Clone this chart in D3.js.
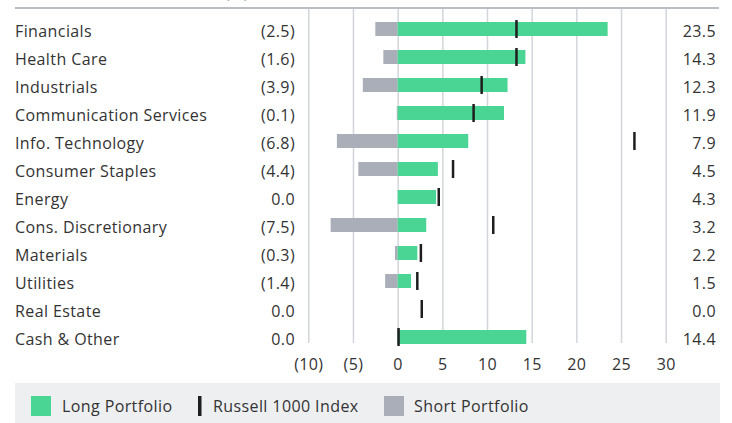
<!DOCTYPE html>
<html>
<head>
<meta charset="utf-8">
<script src="https://cdn.jsdelivr.net/npm/d3@7"></script>
<style>
  body { margin: 0; background: #fff; }
  svg text { font-family: "Open Sans", sans-serif; fill: #333; letter-spacing: 0.4px; }
</style>
</head>
<body>
<div id="chart"></div>
<script>
var sectors = ["Financials", "Health Care", "Industrials", "Communication Services",
  "Info. Technology", "Consumer Staples", "Energy", "Cons. Discretionary",
  "Materials", "Utilities", "Real Estate", "Cash & Other"];
var longValues  = [23.5, 14.3, 12.3, 11.9, 7.9, 4.5, 4.3, 3.2, 2.2, 1.5, 0.0, 14.4];
var shortValues = [-2.5, -1.6, -3.9, -0.1, -6.8, -4.4, 0.0, -7.5, -0.3, -1.4, 0.0, 0.0];
var indexValues = [13.3, 13.3, 9.4, 8.5, 26.5, 6.2, 4.6, 10.7, 2.6, 2.2, 2.7, 0.1];
var tickValues  = [-10, -5, 0, 5, 10, 15, 20, 25, 30];
var legendItems = ["Long Portfolio", "Russell 1000 Index", "Short Portfolio"];

var width = 732, height = 423;
var green = "#4bd594", grey = "#a9aeb8", dark = "#1e1e1e";
var fs = "16px";

var data = sectors.map(function(s, i) {
  return {sector: s, long: longValues[i], short: shortValues[i], index: indexValues[i]};
});

var svg = d3.select("#chart").append("svg")
    .attr("width", width)
    .attr("height", height);

var x = d3.scaleLinear().domain([-10, 30]).range([308.3, 665.7]);
var y = d3.scaleBand().domain(sectors).range([15, 351]).paddingInner(0.5).paddingOuter(0.25);
var bh = 14;
function cy(d) { return y(d.sector) + y.bandwidth() / 2; }

function paren(v) {
  return v < 0 ? "(" + d3.format(".1f")(-v) + ")" : d3.format(".1f")(v);
}

// header fragment, cut at the top like the source
svg.append("text").attr("x", 237).attr("y", -2).attr("text-anchor", "middle")
  .style("font-size", fs).text("(%)");

// grid
svg.append("g")
  .attr("transform", "translate(0,343)")
  .call(d3.axisBottom(x).tickValues(tickValues).tickSize(-335).tickFormat(""))
  .call(function(g) {
    g.select(".domain").remove();
    g.selectAll(".tick line").attr("stroke", "#d2d5da").attr("stroke-width", 1.5);
  });

// top rule
svg.append("line").attr("x1", 15).attr("x2", 719).attr("y1", 8).attr("y2", 8)
  .attr("stroke", "#b9bdc4").attr("stroke-width", 2);

// axis labels
svg.append("g")
  .attr("transform", "translate(0,352)")
  .call(d3.axisBottom(x).tickValues(tickValues).tickSize(0)
    .tickFormat(function(d) { return d < 0 ? "(" + (-d) + ")" : d; }))
  .call(function(g) {
    g.select(".domain").remove();
    g.selectAll("text").attr("fill", "#333").attr("dy", 0).attr("y", 18)
      .style("font-family", "'Open Sans', sans-serif").style("font-size", fs);
  });

// short bars
svg.selectAll(".short").data(data).enter().append("rect")
  .attr("class", "short")
  .attr("x", function(d) { return x(d.short); })
  .attr("y", function(d) { return cy(d) - bh / 2; })
  .attr("width", function(d) { return x(0) - x(d.short); })
  .attr("height", bh)
  .attr("fill", grey);

// long bars
svg.selectAll(".long").data(data).enter().append("rect")
  .attr("class", "long")
  .attr("x", x(0))
  .attr("y", function(d) { return cy(d) - bh / 2; })
  .attr("width", function(d) { return x(d.long) - x(0); })
  .attr("height", bh)
  .attr("fill", green);

// index markers
svg.selectAll(".index").data(data).enter().append("line")
  .attr("class", "index")
  .attr("x1", function(d) { return x(d.index); })
  .attr("x2", function(d) { return x(d.index); })
  .attr("y1", function(d) { return cy(d) - 9; })
  .attr("y2", function(d) { return cy(d) + 9; })
  .attr("stroke", dark).attr("stroke-width", 2.5);

// labels
var rows = svg.selectAll(".row").data(data).enter().append("g")
  .attr("class", "row")
  .attr("transform", function(d) { return "translate(0," + (cy(d) + 7.5) + ")"; });
rows.append("text").attr("x", 15).style("font-size", fs).text(function(d) { return d.sector; });
rows.append("text").attr("x", 295).attr("text-anchor", "end").style("font-size", fs)
  .text(function(d) { return paren(d.short); });
rows.append("text").attr("x", 716).attr("text-anchor", "end").style("font-size", fs)
  .text(function(d) { return paren(d.long); });

// legend
svg.append("rect").attr("x", 15).attr("y", 383).attr("width", 705).attr("height", 50)
  .attr("fill", "#eeeff1");
var lg = svg.append("g").attr("transform", "translate(0,406)");
var lx = [31, 198, 384];
var tx = [62, 213, 414];
lg.append("rect").attr("x", lx[0]).attr("y", -10).attr("width", 20).attr("height", 20).attr("fill", green);
lg.append("rect").attr("x", lx[1]).attr("y", -10).attr("width", 3.5).attr("height", 20).attr("fill", dark);
lg.append("rect").attr("x", lx[2]).attr("y", -10).attr("width", 20).attr("height", 20).attr("fill", grey);
lg.selectAll(".lt").data(legendItems).enter().append("text")
  .attr("x", function(d, i) { return tx[i]; })
  .attr("y", 5.5)
  .style("font-size", fs)
  .text(function(d) { return d; });
</script>
</body>
</html>
